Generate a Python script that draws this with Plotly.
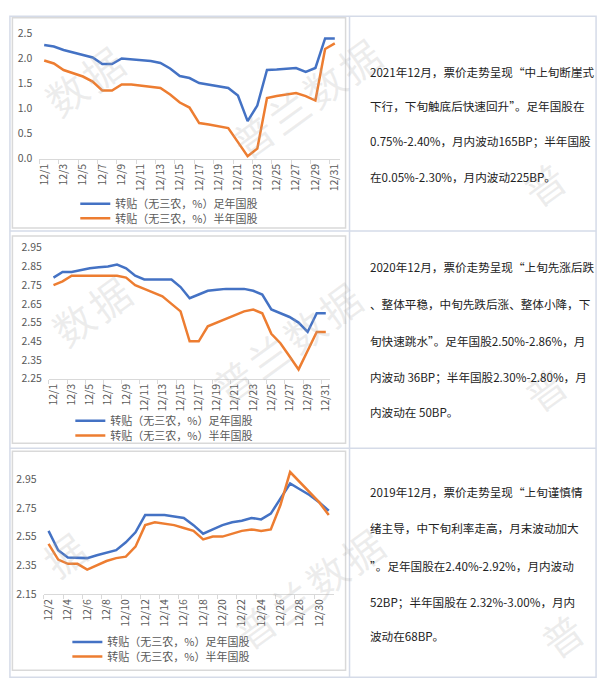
import plotly.graph_objects as go

W, H = 605, 691

# ---------------- data ----------------
dates_2021 = ["12/1", "12/2", "12/3", "12/4", "12/5", "12/6", "12/7", "12/8", "12/9", "12/10",
              "12/11", "12/12", "12/13", "12/14", "12/15", "12/16", "12/17", "12/18", "12/19", "12/20",
              "12/21", "12/22", "12/23", "12/24", "12/25", "12/26", "12/27", "12/28", "12/29", "12/30", "12/31"]
full_2021 = [2.27, 2.24, 2.17, 2.12, 2.08, 2.02, 1.89, 1.89, 2.00, 1.98,
             1.96, 1.95, 1.91, 1.80, 1.65, 1.61, 1.51, 1.48, 1.44, 1.41,
             1.26, 0.75, 1.06, 1.77, 1.78, 1.79, 1.81, 1.73, 1.81, 2.40, 2.40]
half_2021 = [1.96, 1.90, 1.77, 1.70, 1.64, 1.54, 1.36, 1.36, 1.48, 1.48,
             1.46, 1.44, 1.41, 1.28, 1.12, 1.02, 0.71, 0.68, 0.65, 0.61,
             0.33, 0.05, 0.20, 1.21, 1.25, 1.28, 1.31, 1.25, 1.16, 2.19, 2.30]

dates_2020 = list(dates_2021)
full_2020 = [2.79, 2.82, 2.82, 2.83, 2.84, 2.845, 2.85, 2.86, 2.84, 2.80,
             2.78, 2.78, 2.78, 2.78, 2.74, 2.68, 2.70, 2.72, 2.725, 2.73,
             2.73, 2.73, 2.72, 2.70, 2.62, 2.60, 2.58, 2.55, 2.50, 2.60, 2.60]
half_2020 = [2.75, 2.77, 2.80, 2.80, 2.80, 2.80, 2.80, 2.80, 2.79, 2.75,
             2.73, 2.71, 2.69, 2.65, 2.61, 2.45, 2.45, 2.53, 2.55, 2.57,
             2.59, 2.61, 2.62, 2.60, 2.49, 2.44, 2.37, 2.30, 2.40, 2.50, 2.50]

dates_2019 = ["12/2", "12/3", "12/4", "12/5", "12/6", "12/7", "12/8", "12/9", "12/10", "12/11",
              "12/12", "12/13", "12/14", "12/15", "12/16", "12/17", "12/18", "12/19", "12/20", "12/21",
              "12/22", "12/23", "12/24", "12/25", "12/26", "12/27", "12/28", "12/29", "12/30", "12/31"]
full_2019 = [2.59, 2.455, 2.405, 2.40, 2.40, 2.42, 2.44, 2.455, 2.51, 2.58,
             2.70, 2.70, 2.70, 2.69, 2.68, 2.63, 2.57, 2.60, 2.63, 2.65,
             2.66, 2.68, 2.67, 2.71, 2.82, 2.92, 2.88, 2.84, 2.79, 2.73]
half_2019 = [2.50, 2.39, 2.36, 2.36, 2.32, 2.35, 2.38, 2.40, 2.41, 2.48,
             2.63, 2.65, 2.64, 2.63, 2.61, 2.59, 2.53, 2.55, 2.55, 2.57,
             2.59, 2.60, 2.59, 2.60, 2.77, 3.00, 2.93, 2.86, 2.79, 2.70]

name_full = "转贴（无三农，%）足年国股"
name_half = "转贴（无三农，%）半年国股"

text_2021 = ["2021年12月，票价走势呈现“中上旬断崖式",
             "下行，下旬触底后快速回升”。足年国股在",
             "0.75%-2.40%，月内波动165BP；半年国股",
             "在0.05%-2.30%，月内波动225BP。"]
text_2020 = ["2020年12月，票价走势呈现“上旬先涨后跌",
             "、整体平稳，中旬先跌后涨、整体小降，下",
             "旬快速跳水”。足年国股2.50%-2.86%，月",
             "内波动 36BP；半年国股2.30%-2.80%，月",
             "内波动在 50BP。"]
text_2019 = ["2019年12月，票价走势呈现“上旬谨慎情",
             "绪主导，中下旬利率走高，月末波动加大",
             "”。足年国股在2.40%-2.92%，月内波动",
             "52BP；半年国股在 2.32%-3.00%，月内",
             "波动在68BP。"]

watermark = "普兰数据"

BLUE = "#4472C4"
ORANGE = "#ED7D31"
GRAY_TXT = "#595959"
FONT = "Noto Sans CJK SC, Noto Sans, sans-serif"


def px_x(x):
    return x / W


def px_y(y):
    return 1 - y / H


panels = [
    dict(cats=dates_2021, full=full_2021, half=half_2021, xdom=(35.7, 339), ydom=(26, 154),
         yrange=[0, 2.5], tick0=0, dtick=0.5, fmt=".1f", leg=(72, 200, 215),
         text=text_2021, text_y=[65, 100, 136, 173]),
    dict(cats=dates_2020, full=full_2020, half=half_2020, xdom=(45.4, 329.6), ydom=(245, 379),
         yrange=[2.25, 2.95], tick0=2.25, dtick=0.1, fmt=".2f", leg=(67, 422, 437),
         text=text_2020, text_y=[265, 303, 340, 377, 413]),
    dict(cats=dates_2019, full=full_2019, half=half_2019, xdom=(40.1, 332.9), ydom=(467, 599),
         yrange=[2.15, 3.05], tick0=2.15, dtick=0.2, fmt=".2f", leg=(64, 648, 663),
         text=text_2019, text_y=[495, 532, 570, 607, 642]),
]

fig = go.Figure()
layout = dict(width=W, height=H, margin=dict(l=0, r=0, t=0, b=0),
              paper_bgcolor="white", plot_bgcolor="white", showlegend=True,
              font=dict(family=FONT, color=GRAY_TXT))
annotations = []
shapes = []

# watermarks (single glyphs, only those that sit fully inside the page)
step = (36, -26)
for (cx, cy) in ((45, 100), (305, 92), (599, 141), (52, 335), (285, 342), (600, 350),
                 (7, 597), (308, 593), (618, 602)):
    for k, ch in enumerate(watermark):
        gx = cx + (k - 1.5) * step[0]
        gy = cy + (k - 1.5) * step[1]
        if 40 <= gx <= 565 and 40 <= gy <= 650:
            annotations.append(dict(x=px_x(gx), y=px_y(gy), xref="paper", yref="paper",
                                    xanchor="center", yanchor="middle",
                                    text=ch, showarrow=False, textangle=-36,
                                    font=dict(size=40, color="rgba(170,170,170,0.22)",
                                              family=FONT)))

for i, p in enumerate(panels):
    n = i + 1
    xa = "x" if n == 1 else f"x{n}"
    ya = "y" if n == 1 else f"y{n}"
    lg1 = f"legend{2 * i + 1}" if i > 0 else "legend"
    lg2 = f"legend{2 * i + 2}"
    fig.add_trace(go.Scatter(x=p["cats"], y=p["full"], mode="lines", name=name_full,
                             line=dict(color=BLUE, width=2.5), xaxis=xa, yaxis=ya,
                             legend=lg1, showlegend=True))
    fig.add_trace(go.Scatter(x=p["cats"], y=p["half"], mode="lines", name=name_half,
                             line=dict(color=ORANGE, width=2.5), xaxis=xa, yaxis=ya,
                             legend=lg2, showlegend=True))
    xkey = "xaxis" if n == 1 else f"xaxis{n}"
    ykey = "yaxis" if n == 1 else f"yaxis{n}"
    layout[xkey] = dict(domain=[px_x(p["xdom"][0]), px_x(p["xdom"][1])], anchor=ya,
                        type="category", range=[-0.5, len(p["cats"]) - 0.5],
                        dtick=2, tickangle=-90, tickson="boundaries", ticks="outside",
                        ticklen=4, tickcolor="#d9d9d9", showline=True, linecolor="#d9d9d9",
                        linewidth=1, showgrid=False, tickfont=dict(size=10.5, color=GRAY_TXT))
    layout[ykey] = dict(domain=[px_y(p["ydom"][1]), px_y(p["ydom"][0])], anchor=xa,
                        range=p["yrange"], tick0=p["tick0"], dtick=p["dtick"],
                        tickformat=p["fmt"], showgrid=False, zeroline=False, showline=False,
                        ticks="", ticklabelstandoff=6, tickfont=dict(size=10.5, color=GRAY_TXT))
    lx, ly1, ly2 = p["leg"]
    for lg, yy in ((lg1, ly1), (lg2, ly2)):
        layout[lg] = dict(x=px_x(lx), y=px_y(yy), xanchor="left", yanchor="middle",
                          bgcolor="rgba(0,0,0,0)", borderwidth=0, itemwidth=30,
                          visible=True,
                          font=dict(size=11, color=GRAY_TXT, family=FONT))
    for t, ty in zip(p["text"], p["text_y"]):
        annotations.append(dict(x=px_x(368), y=px_y(ty), xref="paper", yref="paper",
                                xanchor="left", yanchor="middle", showarrow=False, text=t,
                                font=dict(size=11.6, color="#222222", family=FONT)))

# table borders
TB = "#d5dbe8"
shapes.append(dict(type="rect", xref="paper", yref="paper", x0=px_x(6), x1=px_x(598),
                   y0=px_y(684), y1=px_y(8.5), line=dict(color=TB, width=1.5)))
shapes.append(dict(type="line", xref="paper", yref="paper", x0=px_x(349), x1=px_x(349),
                   y0=px_y(684), y1=px_y(8.5), line=dict(color=TB, width=1.5)))
for yy in (228, 450):
    shapes.append(dict(type="line", xref="paper", yref="paper", x0=px_x(6), x1=px_x(598),
                       y0=px_y(yy), y1=px_y(yy), line=dict(color=TB, width=1.5)))
# chart boxes
for (t, b) in ((10, 225), (233, 445), (453, 677)):
    shapes.append(dict(type="rect", xref="paper", yref="paper", x0=px_x(8.5), x1=px_x(345),
                       y0=px_y(b), y1=px_y(t), line=dict(color="#d9d9d9", width=1.5)))

layout["annotations"] = annotations
layout["shapes"] = shapes
fig.update_layout(**layout)

fig.write_html("out.html", config={"displayModeBar": False},
               post_script="document.body.style.margin='0';")
